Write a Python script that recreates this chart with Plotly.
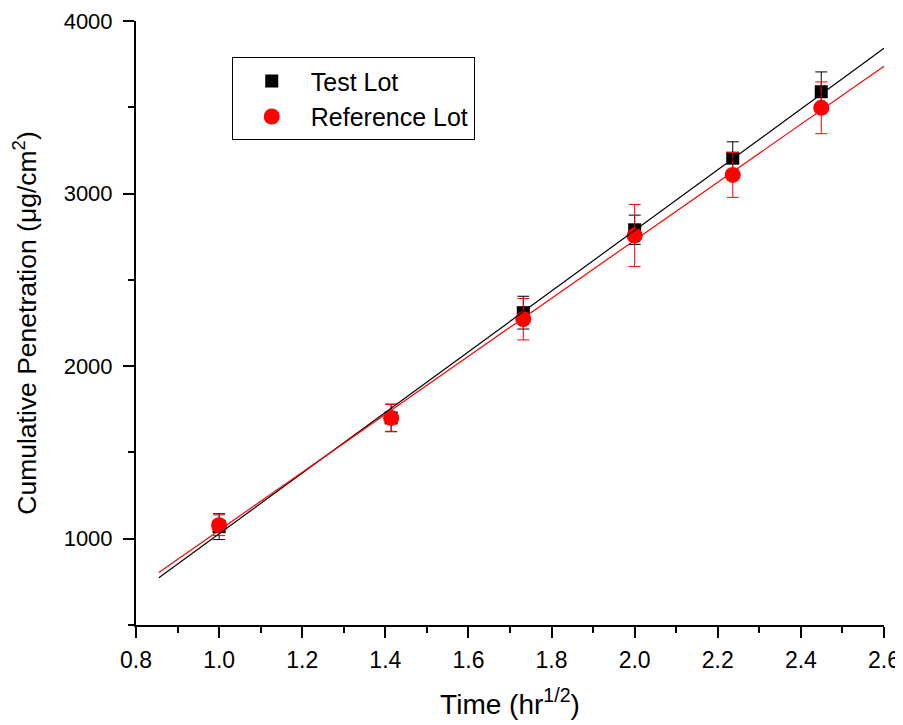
import numpy as np
import plotly.graph_objects as go

# Data
time_sqrt = [1.0, 1.414, 1.732, 2.0, 2.236, 2.449]
test_vals = [1070, 1700, 2310, 2790, 3205, 3590]
test_err = [75, 80, 95, 85, 95, 115]
ref_vals = [1078, 1700, 2272, 2757, 3108, 3497]
ref_err = [60, 78, 120, 180, 130, 150]
fit_range = [0.855, 2.6]
x_ticks = [0.8, 1.0, 1.2, 1.4, 1.6, 1.8, 2.0, 2.2, 2.4, 2.6]
y_ticks = [1000, 2000, 3000, 4000]

FONT = "Liberation Sans"

fig = go.Figure()

fig.add_trace(go.Scatter(
    x=time_sqrt, y=test_vals, mode="markers", name="Test Lot",
    marker=dict(symbol="square", size=13, color="black"),
    error_y=dict(type="data", array=test_err, color="black", thickness=1, width=6),
))
fig.add_trace(go.Scatter(
    x=time_sqrt, y=ref_vals, mode="markers", name="Reference Lot",
    marker=dict(symbol="circle", size=16, color="#ff0000"),
    error_y=dict(type="data", array=ref_err, color="#ff0000", thickness=1, width=6),
))

xf = np.array(fit_range)
for vals, col in [(test_vals, "black"), (ref_vals, "#ff0000")]:
    m, b = np.polyfit(time_sqrt, vals, 1)
    fig.add_trace(go.Scatter(
        x=xf, y=m * xf + b, mode="lines", showlegend=False,
        line=dict(color=col, width=1.2), hoverinfo="skip",
    ))

# page body has an 8px default margin, so the figure is offset by 8px
fig.update_layout(
    width=895, height=717,
    margin=dict(l=128, r=19, t=13, b=100),
    paper_bgcolor="white", plot_bgcolor="white",
    font=dict(family=FONT, color="black", size=23),
    showlegend=True,
    legend=dict(
        x=0.128, y=0.94, xanchor="left", yanchor="top",
        bgcolor="white", bordercolor="black", borderwidth=1,
        font=dict(size=25, family=FONT),
        tracegroupgap=0, itemsizing="trace", itemwidth=68,
    ),
    xaxis=dict(
        range=[0.8, 2.6], tickvals=x_ticks,
        ticktext=[f"{v:.1f}" for v in x_ticks],
        showgrid=False, zeroline=False, automargin=False,
        ticklabeloverflow="allow", ticklabelstandoff=2,
        showline=True, linecolor="black", linewidth=2,
        ticks="outside", ticklen=11, tickwidth=2, tickcolor="black",
        minor=dict(dtick=0.1, tick0=0.8, ticks="outside", ticklen=6, tickwidth=2, tickcolor="black", showgrid=False),
        tickfont=dict(size=23),
        title=dict(text="Time (hr<sup>1/2</sup>)", font=dict(size=28), standoff=23),
    ),
    yaxis=dict(
        range=[500, 4000], tickvals=y_ticks,
        showgrid=False, zeroline=False, automargin=False,
        ticklabeloverflow="allow", ticklabelstandoff=6,
        showline=True, linecolor="black", linewidth=2,
        ticks="outside", ticklen=11, tickwidth=2, tickcolor="black",
        minor=dict(dtick=500, tick0=500, ticks="outside", ticklen=6, tickwidth=2, tickcolor="black", showgrid=False),
        tickfont=dict(size=22),
        title=dict(text="Cumulative Penetration (\u03bcg/cm<sup>2</sup>)", font=dict(size=26.5), standoff=20),
    ),
)

fig.write_html("out.html")
